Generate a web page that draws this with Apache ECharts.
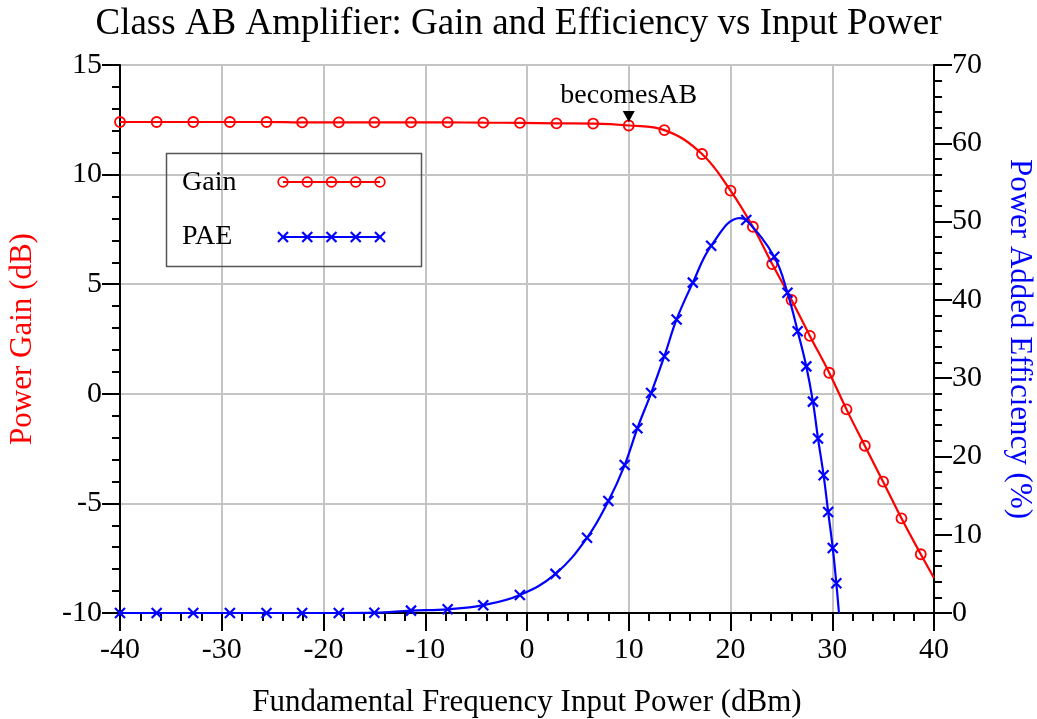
<!DOCTYPE html>
<html>
<head>
<meta charset="utf-8">
<script src="https://cdn.jsdelivr.net/npm/echarts@6/dist/echarts.min.js"></script>
<style>html,body{margin:0;padding:0;background:#fff;}#chart{width:1037px;height:719px;}</style>
</head>
<body>
<div id="chart"></div>
<script>
// ---- Data ----
const titleText = 'Class AB Amplifier: Gain and Efficiency vs Input Power';
const xAxisName = 'Fundamental Frequency Input Power (dBm)';
const gainAxisName = 'Power Gain (dB)';
const paeAxisName = 'Power Added Efficiency (%)';
const seriesNames = ['Gain', 'PAE'];

// Gain markers (x in dBm, y in dB)
const gainX = [-40, -36.4, -32.8, -29.2, -25.6, -22.1, -18.5, -15.0, -11.4, -7.8, -4.3, -0.7, 2.9, 6.5, 10.0, 13.5, 17.2, 20.0, 22.2, 24.1, 26.0, 27.8, 29.7, 31.4, 33.2, 35.0, 36.8, 38.7];
const gainY = [12.4, 12.4, 12.4, 12.4, 12.4, 12.38, 12.38, 12.38, 12.38, 12.38, 12.37, 12.36, 12.34, 12.33, 12.24, 12.03, 10.94, 9.27, 7.62, 5.92, 4.28, 2.64, 0.96, -0.71, -2.37, -4.01, -5.68, -7.32];
// Gain curve points without markers
const gainLineOnlyX = [40];
const gainLineOnlyY = [-8.4];

// PAE markers (x in dBm, y in %)
const paeX = [-40, -36.4, -32.8, -29.2, -25.6, -22.1, -18.5, -15.0, -11.4, -7.8, -4.3, -0.7, 2.8, 5.9, 8.0, 9.6, 10.85, 12.2, 13.5, 14.7, 16.3, 18.1, 21.55, 24.3, 25.6, 26.6, 27.45, 28.1, 28.6, 29.15, 29.6, 30.05, 30.4];
const paeY = [0, 0, 0, 0, 0, 0, 0, 0.04, 0.3, 0.47, 1.0, 2.3, 5.0, 9.6, 14.3, 18.9, 23.6, 28.1, 32.8, 37.5, 42.2, 46.9, 50.2, 45.5, 40.9, 36.0, 31.5, 27.0, 22.3, 17.6, 12.9, 8.3, 3.8];
// PAE curve points without markers (peak of curve, end at zero)
const paeLineOnlyX = [20.9, 30.66];
const paeLineOnlyY = [50.45, 0];

// Axis ranges / ticks
const xMin = -40, xMax = 40, xStep = 10;
const gainMin = -10, gainMax = 15, gainStep = 5;
const paeMin = 0, paeMax = 70, paeStep = 10;

// Annotation
const annotationText = 'becomesAB';
const annotationIndex = 14; // gain marker at 10 dBm

// ---- Build ----
const FONT = 'Liberation Serif';
const RED = '#ff0000', BLUE = '#0000ff';
const CROSS = 'path://M0,0L10,10M10,0L0,10';

function buildData(mx, my, lx, ly) {
  const pts = [];
  mx.forEach((x, i) => pts.push({ value: [x, my[i]] }));
  lx.forEach((x, i) => pts.push({ value: [x, ly[i]], symbol: 'none' }));
  pts.sort((a, b) => a.value[0] - b.value[0]);
  return pts;
}

const chart = echarts.init(document.getElementById('chart'), null, { renderer: 'canvas' });

const axisLabelStyle = { fontFamily: FONT, fontSize: 30, color: '#000' };
const tickStyle = { show: true, length: 18, lineStyle: { color: '#000', width: 2 } };
const minorStyle = { show: true, splitNumber: 5, length: 8, lineStyle: { color: '#000', width: 2 } };

const legendLeft = 164, legendTop = 151, legendW = 255, legendH = 113;
const iconX0 = 283, iconX1 = 380, row1 = 182, row2 = 237;
const legendGraphics = [
  { type: 'rect', left: legendLeft, top: legendTop, shape: { width: legendW, height: legendH }, style: { fill: 'none', stroke: '#555', lineWidth: 1.5 }, z: 100 },
  { type: 'text', left: 182, top: row1 - 13, style: { text: seriesNames[0], font: '28px ' + FONT, fill: '#000' }, z: 100 },
  { type: 'text', left: 182, top: row2 - 14, style: { text: seriesNames[1], font: '28px ' + FONT, fill: '#000' }, z: 100 },
  { type: 'line', shape: { x1: iconX0, y1: row1, x2: iconX1, y2: row1 }, style: { stroke: RED, lineWidth: 2.2 }, z: 100 },
  { type: 'line', shape: { x1: iconX0, y1: row2, x2: iconX1, y2: row2 }, style: { stroke: BLUE, lineWidth: 2.2 }, z: 100 }
];
for (let k = 0; k < 5; k++) {
  const cx = iconX0 + k * (iconX1 - iconX0) / 4;
  legendGraphics.push({ type: 'circle', shape: { cx: cx, cy: row1, r: 4.8 }, style: { fill: 'none', stroke: RED, lineWidth: 1.8 }, z: 101 });
  legendGraphics.push({ type: 'polyline', shape: { points: [[cx - 5, row2 - 5], [cx + 5, row2 + 5]] }, style: { stroke: BLUE, lineWidth: 2.2 }, z: 101 });
  legendGraphics.push({ type: 'polyline', shape: { points: [[cx + 5, row2 - 5], [cx - 5, row2 + 5]] }, style: { stroke: BLUE, lineWidth: 2.2 }, z: 101 });
}

const option = {
  animation: false,
  backgroundColor: '#fff',
  title: {
    text: titleText,
    left: 'center',
    top: 1,
    textStyle: { fontFamily: FONT, fontSize: 37, fontWeight: 'normal', color: '#000' }
  },
  grid: { left: 120, right: 103, top: 65, bottom: 106, show: true, borderColor: '#000', borderWidth: 2, backgroundColor: 'transparent', containLabel: false, outerBoundsMode: 'none' },
  xAxis: {
    type: 'value', min: xMin, max: xMax, interval: xStep,
    name: xAxisName, nameLocation: 'middle', nameGap: 74,
    nameTextStyle: { fontFamily: FONT, fontSize: 31, color: '#000' },
    axisLine: { show: true, onZero: false, lineStyle: { color: '#000', width: 2 } },
    axisTick: tickStyle,
    minorTick: minorStyle,
    axisLabel: Object.assign({ margin: 22 }, axisLabelStyle),
    splitLine: { show: true, lineStyle: { color: '#c4c4c4', width: 2 } }
  },
  yAxis: [
    {
      type: 'value', min: gainMin, max: gainMax, interval: gainStep, position: 'left',
      name: gainAxisName, nameLocation: 'middle', nameGap: 82, nameRotate: 90,
      nameTextStyle: { fontFamily: FONT, fontSize: 31, color: RED },
      axisLine: { show: true, onZero: false, lineStyle: { color: '#000', width: 2 } },
      axisTick: tickStyle,
      minorTick: minorStyle,
      axisLabel: Object.assign({ margin: 18 }, axisLabelStyle),
      splitLine: { show: true, lineStyle: { color: '#c4c4c4', width: 2 } }
    },
    {
      type: 'value', min: paeMin, max: paeMax, interval: paeStep, position: 'right',
      name: paeAxisName, nameLocation: 'middle', nameGap: 70, nameRotate: -90,
      nameTextStyle: { fontFamily: FONT, fontSize: 31, color: BLUE },
      axisLine: { show: true, onZero: false, lineStyle: { color: '#000', width: 2 } },
      axisTick: tickStyle,
      minorTick: minorStyle,
      axisLabel: Object.assign({ margin: 18 }, axisLabelStyle),
      splitLine: { show: false }
    }
  ],
  series: [
    {
      name: seriesNames[0], type: 'line', yAxisIndex: 0,
      data: buildData(gainX, gainY, gainLineOnlyX, gainLineOnlyY),
      smooth: 0.4,
      symbol: 'circle', symbolSize: 10, showAllSymbol: true,
      lineStyle: { color: RED, width: 2.2 },
      itemStyle: { color: 'rgba(0,0,0,0)', borderColor: RED, borderWidth: 1.8 },
      emphasis: { disabled: true }, silent: true, z: 3,
      markPoint: {
        silent: true,
        data: [{
          coord: [gainX[annotationIndex], gainY[annotationIndex]],
          symbol: 'triangle', symbolRotate: 180, symbolSize: [12, 11], symbolOffset: [0, -9],
          itemStyle: { color: '#000', borderWidth: 0 },
          label: { show: true, position: 'top', distance: 1, formatter: annotationText, fontFamily: FONT, fontSize: 28, color: '#000' }
        }]
      }
    },
    {
      name: seriesNames[1], type: 'line', yAxisIndex: 1,
      data: buildData(paeX, paeY, paeLineOnlyX, paeLineOnlyY),
      smooth: 0.4,
      symbol: CROSS, symbolSize: 10, showAllSymbol: true,
      lineStyle: { color: BLUE, width: 2.2 },
      itemStyle: { color: 'rgba(0,0,0,0)', borderColor: BLUE, borderWidth: 2.2 },
      emphasis: { disabled: true }, silent: true, z: 4
    }
  ],
  graphic: legendGraphics
};
chart.setOption(option);
</script>
</body>
</html>
